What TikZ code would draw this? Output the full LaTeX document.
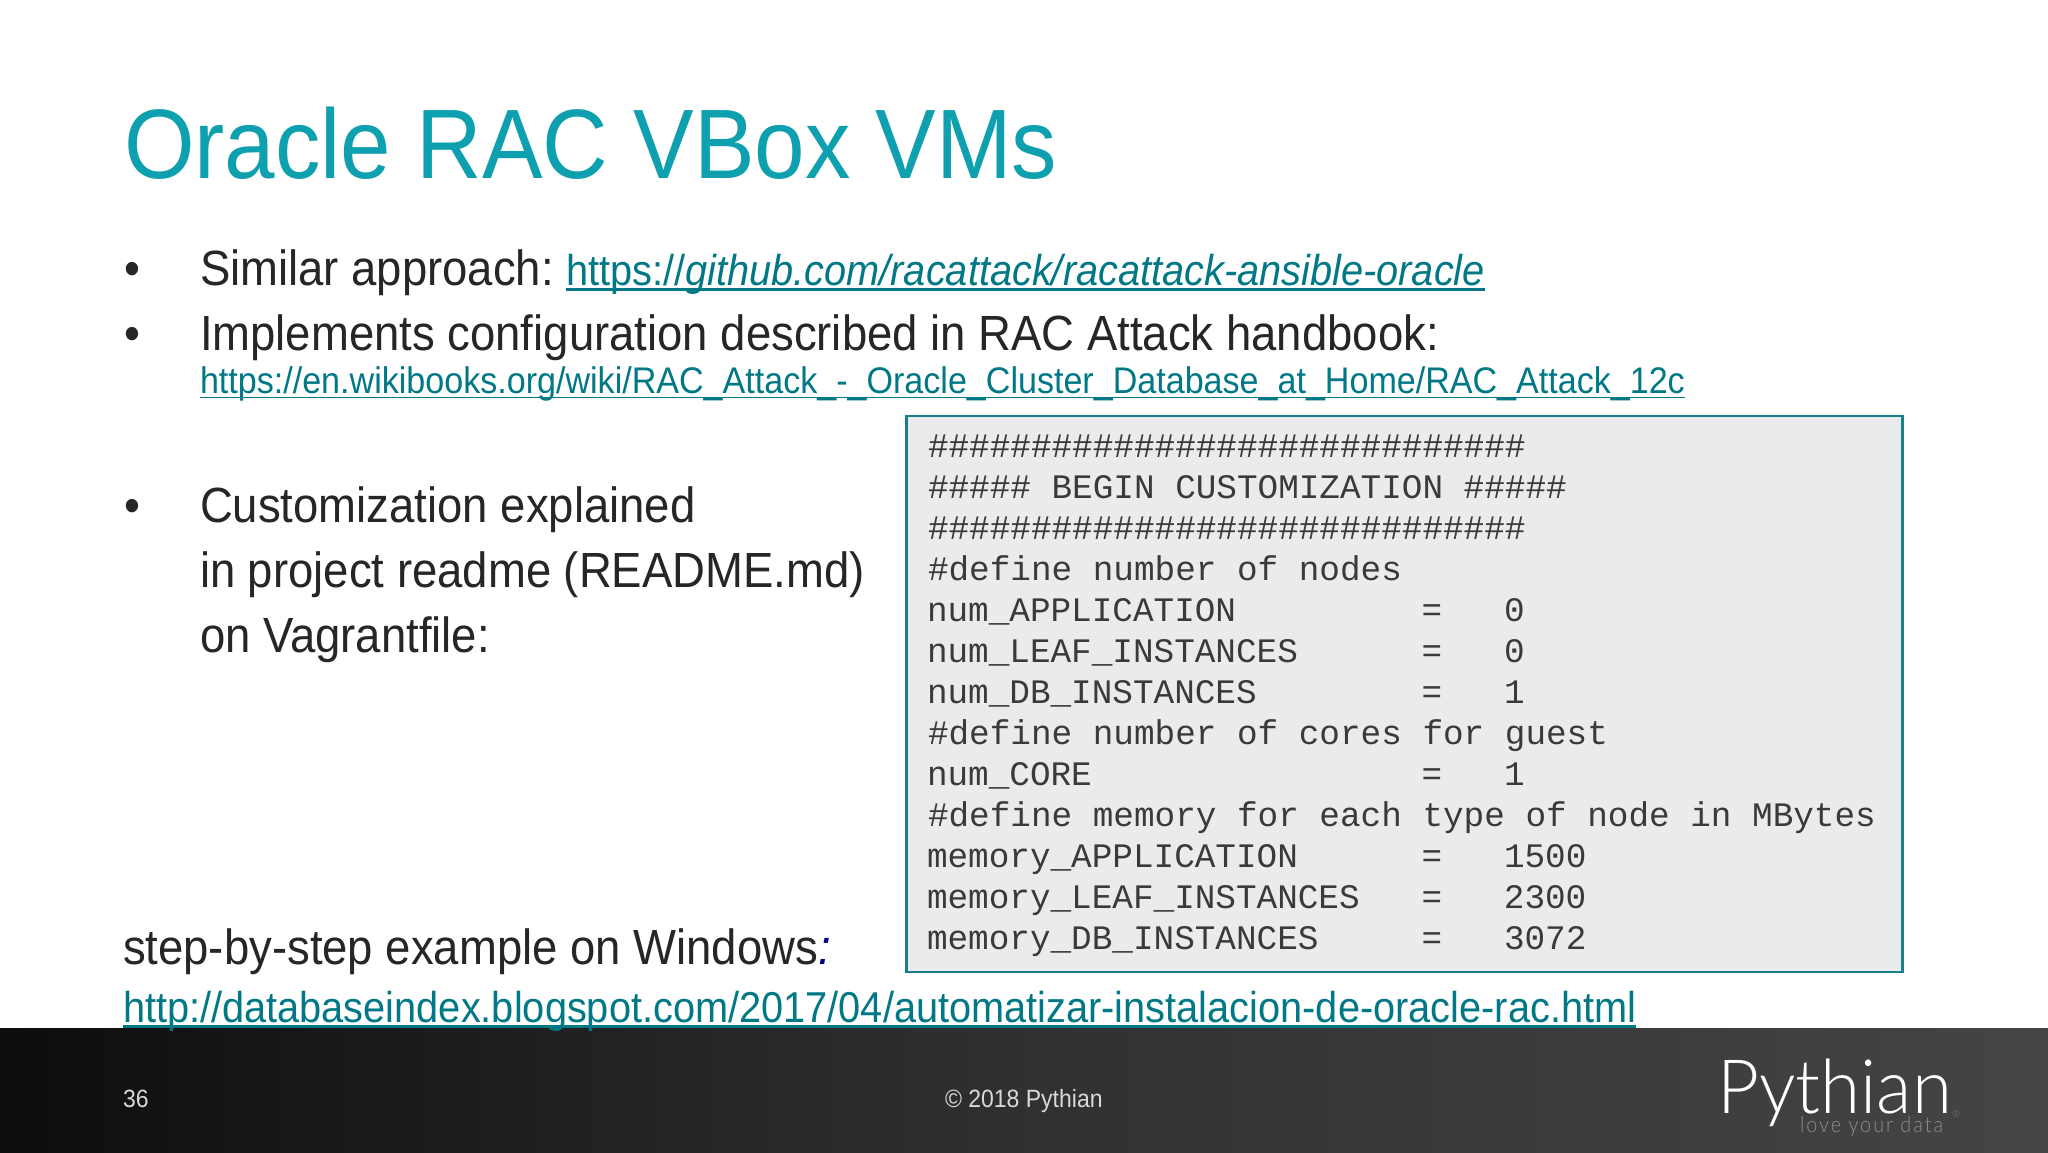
\documentclass[tikz,border=0pt]{standalone}
\usepackage{fontspec}
\setmainfont{Liberation Sans}[FakeStretch=0.92]
\newfontfamily\monof{Liberation Mono}
\newfontfamily\logof{Lato Light}[FakeStretch=0.97]
\newfontfamily\tagf{Lato Light}[FakeStretch=0.9,LetterSpace=9]
\definecolor{titlecol}{HTML}{0FA0AF}
\definecolor{bodycol}{HTML}{262626}
\definecolor{linkcol}{HTML}{007885}
\definecolor{boxfill}{HTML}{EAEBED}
\definecolor{boxline}{HTML}{1A7F8C}
\definecolor{codecol}{HTML}{3A3A3A}
\tikzset{
  x=0.5pt,y=-0.5pt,
  every node/.style={inner sep=0pt,outer sep=0pt,anchor=base west},
  titletext/.style={text=titlecol,font=\fontsize{49.35}{58}\selectfont},
  bodytext/.style={text=bodycol,font=\fontsize{24.72}{30}\selectfont},
  linktext/.style={text=linkcol,font=\fontsize{21.6}{27}\selectfont},
  smalllink/.style={text=linkcol,font=\fontsize{18.52}{24}\selectfont},
  codetext/.style={text=codecol,font=\monof\fontsize{17.17}{20}\selectfont},
  foottext/.style={text=white!85!black,font=\fontsize{12.5}{15}\selectfont},
  uline/.style={draw=linkcol,line width=1.1pt},
  sline/.style={draw=linkcol,line width=0.7pt},
}
\begin{document}
\begin{tikzpicture}
\useasboundingbox (0,0) rectangle (2048,1152);
\fill[white] (0,0) rectangle (2048,1152);
% footer
\shade[left color=black!95,right color=black!73,middle color=black!81,shading angle=90] (0,1028) rectangle (2048,1152);
% title
\node[titletext] (title) at (124,178) {Oracle RAC VBox VMs};
% bullets
\node[bodytext] (b1) at (124,285) {•};
\node[bodytext] (s1) at (200,285) {Similar approach:};
\node[linktext] (l1) at (566,285) {https://\textit{github.com/racattack/racattack-ansible-oracle}};
\draw[uline] ([yshift=-2.2pt]l1.base west) -- ([yshift=-2.2pt]l1.base east);
\node[bodytext] (b2) at (124,350) {•};
\node[bodytext] (s2) at (200,350) {Implements configuration described in RAC Attack handbook:};
\node[smalllink] (l2) at (200,393) {https://en.wikibooks.org/wiki/RAC\_Attack\_-\_Oracle\_Cluster\_Database\_at\_Home/RAC\_Attack\_12c};
\draw[sline] ([yshift=-2.2pt]l2.base west) -- ([yshift=-2.2pt]l2.base east);
\node[bodytext] (b3) at (124,522) {•};
\node[bodytext] (s3) at (200,522) {Customization explained};
\node[bodytext] (s4) at (200,587) {in project readme (README.md)};
\node[bodytext] (s5) at (200,652) {on Vagrantfile:};
\node[bodytext] (s6) at (123,964) {step-by-step example on Windows\textcolor{blue!50!black}{\textit{:}}};
\node[linktext] (l3) at (123,1022) {http://databaseindex.blogspot.com/2017/04/automatizar-instalacion-de-oracle-rac.html};
\draw[uline] ([yshift=-2.2pt]l3.base west) -- ([yshift=-2.2pt]l3.base east);
% code box
\node[draw=boxline,fill=boxfill,line width=1.1pt,anchor=north west,minimum width=498pt,minimum height=278pt] (box) at (906.5,416) {};
\node[codetext] (c1) at (928,457) {\#\#\#\#\#\#\#\#\#\#\#\#\#\#\#\#\#\#\#\#\#\#\#\#\#\#\#\#\#};
\node[codetext] (c2) at (928,498) {\#\#\#\#\#~BEGIN~CUSTOMIZATION~\#\#\#\#\#};
\node[codetext] (c3) at (928,539) {\#\#\#\#\#\#\#\#\#\#\#\#\#\#\#\#\#\#\#\#\#\#\#\#\#\#\#\#\#};
\node[codetext] (c4) at (928,580) {\#define~number~of~nodes};
\node[codetext] (c5) at (927,621) {num\_APPLICATION~~~~~~~~~=~~~0};
\node[codetext] (c6) at (927,662) {num\_LEAF\_INSTANCES~~~~~~=~~~0};
\node[codetext] (c7) at (927,703) {num\_DB\_INSTANCES~~~~~~~~=~~~1};
\node[codetext] (c8) at (928,744) {\#define~number~of~cores~for~guest};
\node[codetext] (c9) at (927,785) {num\_CORE~~~~~~~~~~~~~~~~=~~~1};
\node[codetext] (c10) at (928,826) {\#define~memory~for~each~type~of~node~in~MBytes};
\node[codetext] (c11) at (927,867) {memory\_APPLICATION~~~~~~=~~~1500};
\node[codetext] (c12) at (927,908) {memory\_LEAF\_INSTANCES~~~=~~~2300};
\node[codetext] (c13) at (927,949) {memory\_DB\_INSTANCES~~~~~=~~~3072};
% footer text
\node[foottext] (num) at (123,1107) {36};
\node[foottext] (copy) at (945,1107) {© 2018 Pythian};
\node[text=white,font=\logof\fontsize{37.5}{44}\selectfont] (logo) at (1717,1113) {Pythian};
\node[text=black!45,font=\tagf\fontsize{11}{14}\selectfont] (tag) at (1800,1132) {love your data};
\node[text=black!50,font=\logof\fontsize{5}{6}\selectfont] (reg) at (1952,1117) {®};
\end{tikzpicture}
\end{document}
